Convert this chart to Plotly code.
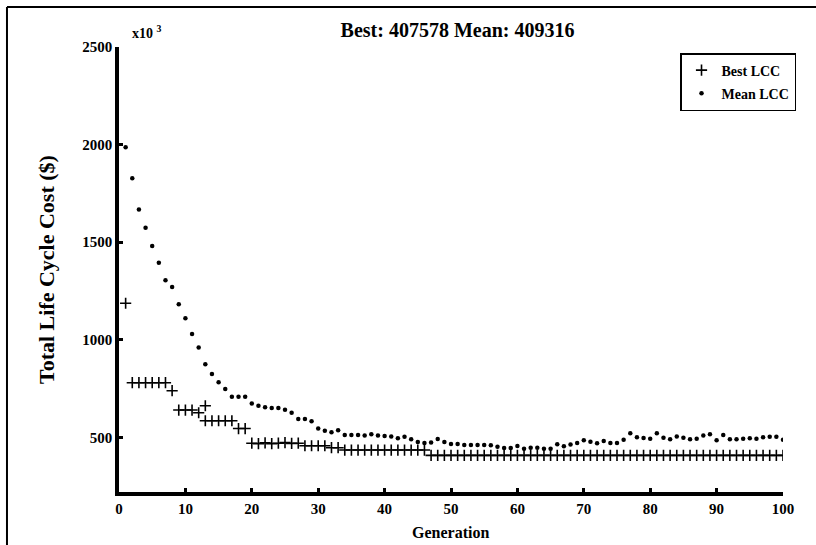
import plotly.graph_objects as go

generations = list(range(1, 101))

best_lcc = [
    1187, 780, 780, 780, 780, 780, 780, 739, 640, 640,
    640, 626, 585, 585, 585, 585, 585, 545, 545, 470,
    468, 472, 468, 470, 473, 469, 470, 457, 457, 457,
    457, 447, 447, 435, 435, 435, 435, 435, 435, 435,
    435, 435, 435, 435, 435, 435, 407.578, 407.578, 407.578, 407.578,
] + [407.578] * 50

# extra "best" mark drawn at generation 13 in the original figure
best_extra_gen = [13]
best_extra_lcc = [662]

mean_lcc = [
    1986, 1827, 1667, 1574, 1481, 1395, 1305, 1270, 1182, 1110,
    1030, 960, 874, 825, 782, 748, 708, 708, 708, 673,
    662, 654, 651, 651, 642, 626, 594, 594, 582, 545,
    534, 526, 536, 512, 512, 512, 509, 516, 510, 507,
    505, 495, 503, 490, 476, 471, 473, 492, 476, 466,
    466, 461, 461, 461, 461, 459, 452, 446, 446, 456,
    441, 447, 447, 442, 442, 465, 454, 463, 471, 485,
    478, 470, 481, 471, 471, 488, 521, 500, 497, 493,
    521, 498, 490, 505, 498, 490, 493, 509, 516, 485,
    512, 490, 490, 493, 495, 493, 500, 503, 503, 488,
]

x_ticks = [0, 10, 20, 30, 40, 50, 60, 70, 80, 90, 100]
y_ticks = [500, 1000, 1500, 2000, 2500]

title_text = "Best: 407578 Mean: 409316"
FONT = "Liberation Serif"

fig = go.Figure()
fig.add_trace(go.Scatter(
    x=generations + best_extra_gen, y=best_lcc + best_extra_lcc,
    mode="markers", name="Best LCC", legendgroup="a",
    marker=dict(symbol="cross-thin", size=8, color="black",
                line=dict(color="black", width=1.6)),
))
fig.add_trace(go.Scatter(
    x=generations, y=mean_lcc,
    mode="markers", name="Mean LCC", legendgroup="b",
    marker=dict(symbol="circle", size=4.5, color="black"),
))

axis_font = dict(family=FONT, size=15, color="black", weight="bold")

fig.update_layout(
    width=816, height=545,
    margin=dict(l=119, r=33, t=47, b=53),
    paper_bgcolor="white", plot_bgcolor="white",
    showlegend=True,
    title=dict(text=title_text, x=0.5607, y=1 - 29.5 / 545,
               xanchor="center", yanchor="middle", xref="container", yref="container",
               font=dict(family=FONT, size=20, color="black", weight="bold")),
    legend=dict(x=1.0196, y=0.9865, xanchor="right", yanchor="top",
                bgcolor="white", bordercolor="black", borderwidth=1.5,
                font=dict(family=FONT, size=14, color="black", weight="bold"),
                tracegroupgap=2, itemwidth=30),
    xaxis=dict(range=[0, 100], tickvals=x_ticks, ticks="inside", ticklen=4,
               tickwidth=3, tickcolor="black", showline=True, linewidth=3.5,
               linecolor="black", showgrid=False, zeroline=False,
               tickfont=axis_font),
    yaxis=dict(range=[220, 2500], tickvals=y_ticks, ticks="inside", ticklen=4,
               tickwidth=3, tickcolor="black", showline=True, linewidth=3.5,
               linecolor="black", showgrid=False, zeroline=False,
               tickfont=axis_font),
    annotations=[
        dict(text="x10 <sup>3</sup>", x=0.0166, y=1.0337, xref="paper", yref="paper",
             xanchor="left", yanchor="middle", showarrow=False,
             font=dict(family=FONT, size=14, color="black", weight="bold")),
        dict(text="Total Life Cycle Cost ($)", x=-0.1084, y=0.4989, xref="paper",
             yref="paper", textangle=-90, xanchor="center", yanchor="middle",
             showarrow=False,
             font=dict(family=FONT, size=22, color="black", weight="bold")),
        dict(text="Generation", x=0.4985, y=-0.0921, xref="paper", yref="paper",
             xanchor="center", yanchor="middle", showarrow=False,
             font=dict(family=FONT, size=16, color="black", weight="bold")),
    ],
    shapes=[
        dict(type="line", xref="paper", yref="paper", x0=-0.1687, x1=1.06,
             y0=1.0899, y1=1.0899, line=dict(color="black", width=2)),
        dict(type="line", xref="paper", yref="paper", x0=-0.1687, x1=-0.1687,
             y0=1.0899, y1=-0.13, line=dict(color="black", width=2)),
    ],
)

fig.write_html("out.html")
